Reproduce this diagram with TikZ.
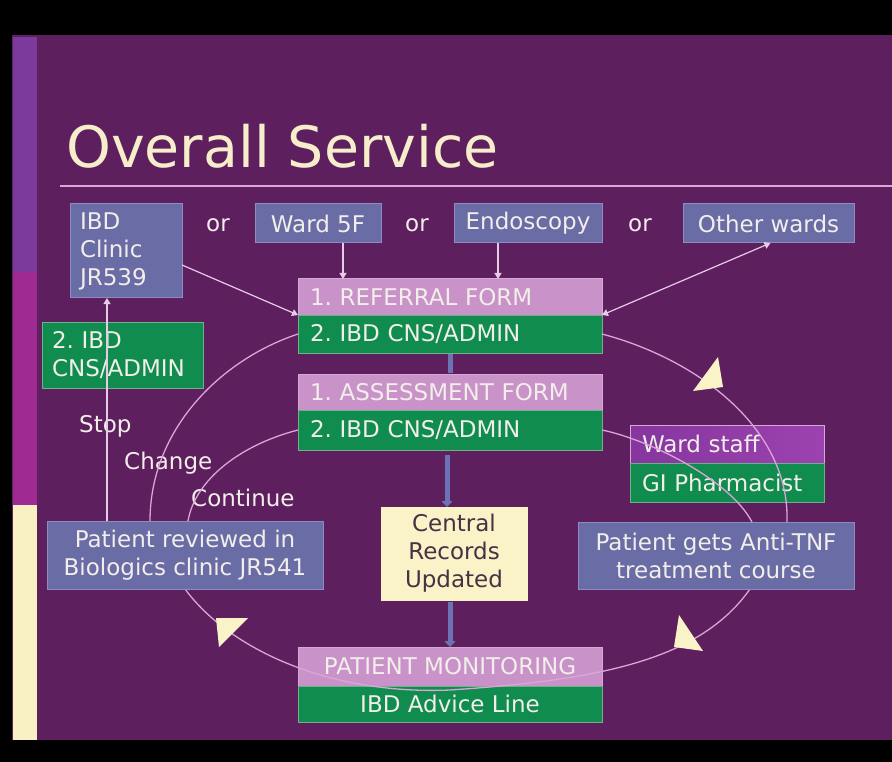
\documentclass[tikz,border=0pt]{standalone}
\usepackage{fontspec}
\setmainfont{DejaVu Sans}
\usetikzlibrary{arrows.meta}
\frenchspacing
\definecolor{cBg}{HTML}{5E1F5E}
\definecolor{cSlate}{HTML}{6A6CA6}
\definecolor{cSlateEdge}{HTML}{8A8CC2}
\definecolor{cPink}{HTML}{C993C9}
\definecolor{cPinkEdge}{HTML}{D6A8D6}
\definecolor{cGreen}{HTML}{0F8C4E}
\definecolor{cGreenEdge}{HTML}{6FB08A}
\definecolor{cWardA}{HTML}{86369E}
\definecolor{cWardB}{HTML}{9C42B0}
\definecolor{cCream}{HTML}{FAF3C8}
\definecolor{cTxt}{HTML}{F2EEEA}
\definecolor{cDark}{HTML}{4A3044}
\definecolor{cTitle}{HTML}{F6EDCB}
\definecolor{cLine}{HTML}{D9A6D6}
\definecolor{cThin}{HTML}{E6CCE6}
\definecolor{cBlue}{HTML}{6C72B4}
\definecolor{cStripA}{HTML}{7B3A9C}
\definecolor{cStripB}{HTML}{9E2A92}
\definecolor{cStripC}{HTML}{F9F1C3}
\begin{document}
\begin{tikzpicture}[x=1pt,y=-1pt,
  box/.style={rectangle, anchor=north west, inner sep=0pt, outer sep=0pt,
    font=\fontsize{23}{28}\selectfont, text=cTxt, line width=1pt},
  lbox/.style={box, align=left},
  cbox/.style={box, align=center},
  slatebox/.style={fill=cSlate, draw=cSlateEdge},
  pinkbox/.style={fill=cPink, draw=cPinkEdge},
  greenbox/.style={fill=cGreen, draw=cGreenEdge},
  plain/.style={font=\fontsize{23}{28}\selectfont, text=cTxt, inner sep=0pt},
  thinarrow/.style={draw=cThin, line width=1.2pt, -{Triangle[width=7pt,length=6pt]}},
  thinboth/.style={draw=cThin, line width=1.2pt, {Triangle[width=7pt,length=6pt]}-{Triangle[width=7pt,length=6pt]}},
  bluearrow/.style={draw=cBlue, line width=5pt, -{Triangle[width=11pt,length=6pt]}},
  cycleline/.style={draw=cLine, line width=1.3pt},
  bigtip/.style={fill=cCream, draw=none}
]
\useasboundingbox (0,0) rectangle (892,762);
% background
\fill[black] (0,0) rectangle (892,762);
\fill[cBg] (12,35) rectangle (892,740);
\fill[cStripA] (13,37) rectangle (37,272);
\fill[cStripB] (13,272) rectangle (37,505);
\fill[cStripC] (13,505) rectangle (37,740);
% title
\node[anchor=base west, inner sep=0pt, text=cTitle, font=\fontsize{57}{60}\selectfont] (title) at (66,168) {Overall Service};
\draw[cLine, line width=2pt] (60,186) -- (892,186);

% top row
\node[lbox, slatebox, minimum width=112pt, minimum height=94pt, text width=92pt, inner xsep=10pt] (clinic) at (70,204) {IBD\\Clinic\\JR539};
\node[cbox, slatebox, minimum width=126pt, minimum height=39pt] (ward5f) at (255,204) {Ward 5F};
\node[cbox, slatebox, minimum width=148pt, minimum height=39pt] (endo) at (454,204) {Endoscopy};
\node[cbox, slatebox, minimum width=171pt, minimum height=39pt] (other) at (683,204) {Other wards};
\node[plain] (or1) at (218,225) {or};
\node[plain] (or2) at (417,225) {or};
\node[plain] (or3) at (640,225) {or};

% central column
\node[lbox, pinkbox, minimum width=304pt, minimum height=36pt, text width=280pt, inner xsep=12pt] (ref1) at (298,279) {1. REFERRAL FORM};
\node[lbox, greenbox, minimum width=304pt, minimum height=38pt, text width=280pt, inner xsep=12pt] (ref2) at (298,315) {2. IBD CNS/ADMIN};
\node[lbox, pinkbox, minimum width=304pt, minimum height=36pt, text width=280pt, inner xsep=12pt] (ass1) at (298,374) {1. ASSESSMENT FORM};
\node[lbox, greenbox, minimum width=304pt, minimum height=40pt, text width=280pt, inner xsep=12pt] (ass2) at (298,410) {2. IBD CNS/ADMIN};
\node[cbox, fill=cCream, draw=cCream, text=cDark, minimum width=146pt, minimum height=93pt] (central) at (381,507) {Central\\Records\\Updated};
\node[cbox, pinkbox, minimum width=304pt, minimum height=39pt] (mon1) at (298,647) {PATIENT MONITORING};
\node[cbox, greenbox, minimum width=304pt, minimum height=36pt] (mon2) at (298,686) {IBD Advice Line};

% left green box
\node[lbox, greenbox, minimum width=161pt, minimum height=66pt, text width=141pt, inner xsep=10pt] (leftg) at (42,322) {2. IBD\\CNS/ADMIN};
% ward staff / pharmacist
\node[lbox, left color=cWardA, right color=cWardB, draw=cPinkEdge, minimum width=194pt, minimum height=38pt, text width=170pt, inner xsep=12pt] (wstaff) at (630,425) {Ward staff};
\node[lbox, greenbox, minimum width=194pt, minimum height=39pt, text width=170pt, inner xsep=12pt] (gipharm) at (630,463) {GI Pharmacist};

% labels
\node[plain, anchor=base west] (stop) at (79,432) {Stop};
\node[plain, anchor=base west] (change) at (124,469) {Change};
\node[plain, anchor=base west] (cont) at (191,506) {Continue};

% side box edge points for connectors
\coordinate (revTop) at (185,521);
\coordinate (revBot) at (185,589);
\coordinate (tnfTop) at (716,522);
\coordinate (tnfBot) at (716,589);

% cycle curves
\draw[cycleline] (ref2.east) .. controls (700,360) and (790,430) .. ([xshift=71pt]tnfTop);
\draw[cycleline] (ass2.east) .. controls (650,440) and (730,480) .. ([xshift=36pt]tnfTop);
\draw[cycleline] ([xshift=34pt]tnfBot) .. controls (700,660) and (600,680) .. (450,690)
   .. controls (330,695) and (230,650) .. (revBot);
\draw[cycleline] (ref2.west) .. controls (220,360) and (150,430) .. ([xshift=-35pt]revTop);
\draw[cycleline] (ass2.west) .. controls (240,445) and (195,480) .. ([xshift=3pt]revTop);

% big arrowheads
\fill[bigtip] (718,357) -- (693,391) -- (723,387) -- cycle;
\fill[bigtip] (679,615) -- (674,647) -- (703,651) -- cycle;
\fill[bigtip] (216,618) -- (248,618) -- (219,647) -- cycle;

% side boxes
\node[cbox, slatebox, minimum width=276pt, minimum height=68pt] (reviewed) at (47,521) {Patient reviewed in\\Biologics clinic JR541};
\node[cbox, slatebox, minimum width=276pt, minimum height=67pt] (tnf) at (578,522) {Patient gets Anti-TNF\\treatment course};

% thin arrows
\draw[thinarrow] ([xshift=25pt]ward5f.south) -- ([xshift=25pt]ward5f.south |- ref1.north);
\draw[thinarrow] ([xshift=-30pt]endo.south) -- ([xshift=-30pt]endo.south |- ref1.north);
\draw[thinarrow] ([yshift=-14pt]clinic.east) -- (ref2.north west);
\draw[thinboth] (ref2.north east) -- ([xshift=2pt]other.south);
\draw[thinarrow] ([xshift=60pt]reviewed.north west) -- ([xshift=60pt]reviewed.north west |- clinic.south);

% thick blue arrows
\draw[cBlue, line width=5pt] ([yshift=-1pt]ref2.south) -- ([yshift=1pt]ass1.north);
\draw[bluearrow] ([xshift=-3pt,yshift=-5pt]ass2.south) -- ([xshift=-3pt]ass2.south |- central.north);
\draw[bluearrow] ([yshift=-2pt]central.south -| mon1.north) -- (mon1.north);
\end{tikzpicture}
\end{document}
